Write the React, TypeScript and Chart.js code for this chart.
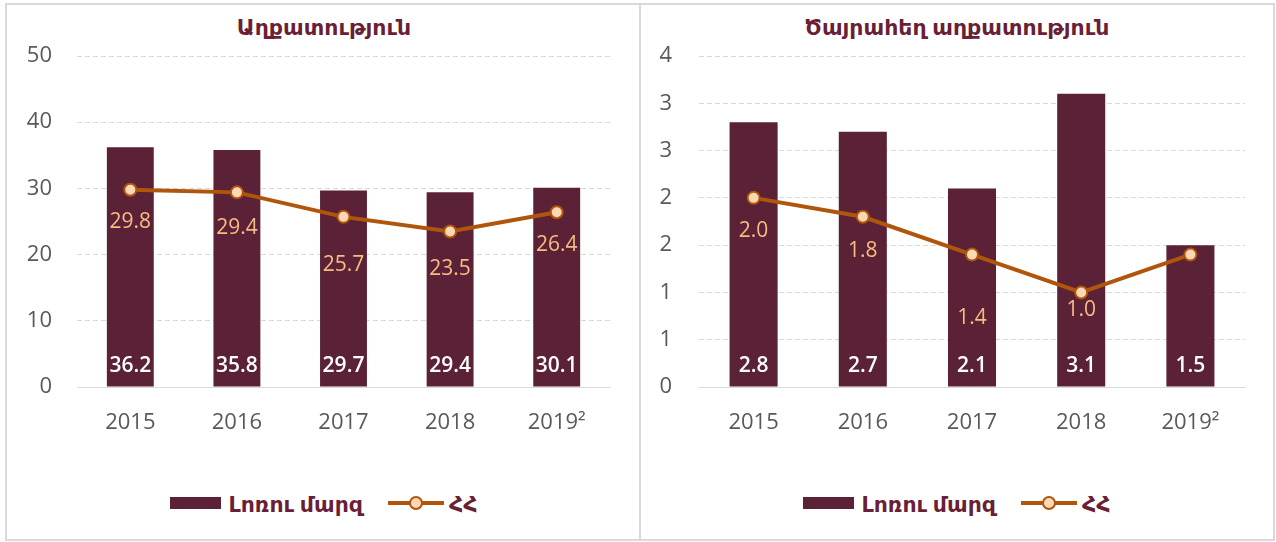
import React, { useEffect, useRef } from "react";
import { Chart, registerables } from "chart.js";

Chart.register(...registerables);

const YEARS = ["2015", "2016", "2017", "2018", "2019²"];
const POVERTY_LORI = [36.2, 35.8, 29.7, 29.4, 30.1];
const POVERTY_RA = [29.8, 29.4, 25.7, 23.5, 26.4];
const EXTREME_LORI = [2.8, 2.7, 2.1, 3.1, 1.5];
const EXTREME_RA = [2.0, 1.8, 1.4, 1.0, 1.4];

const TITLE_LEFT = "Աղքատություն";
const TITLE_RIGHT = "Ծայրահեղ աղքատություն";
const LEGEND_BAR = "Լոռու մարզ";
const LEGEND_LINE = "ՀՀ";

const BAR_COLOR = "#5A2137";
const LINE_COLOR = "#B0560C";
const POINT_FILL = "#FDD8B5";
const LINE_LABEL_COLOR = "#F7BC82";
const TITLE_COLOR = "#6A1F37";
const TICK_COLOR = "#595959";
const GRID_COLOR = "#D9D9D9";
const FONT = "'Open Sans', 'DejaVu Sans', sans-serif";

const labelPlugin = {
  id: "valueLabels",
  afterDatasetsDraw(chart: any, _args: any, opts: any) {
    const ctx = chart.ctx;
    ctx.save();
    ctx.textAlign = "center";
    ctx.textBaseline = "middle";
    chart.data.datasets.forEach((ds: any, di: number) => {
      const meta = chart.getDatasetMeta(di);
      meta.data.forEach((el: any, i: number) => {
        const v = ds.data[i];
        const txt = v.toFixed(1);
        if (ds.type === "bar") {
          ctx.fillStyle = "#FFFFFF";
          ctx.font = `600 21px ${FONT}`;
          ctx.fillText(txt, el.x, el.base - 20);
        } else {
          const off = opts.lineOffsets ? opts.lineOffsets[i] : 33;
          if (off === null) return;
          ctx.fillStyle = LINE_LABEL_COLOR;
          ctx.font = `21px ${FONT}`;
          ctx.fillText(txt, el.x, el.y + off);
        }
      });
    });
    ctx.restore();
  },
};

type Cfg = {
  bars: number[];
  line: number[];
  max: number;
  step: number;
  yWidth: number;
  tickPad: number;
  padRight: number;
  lineOffsets: (number | null)[];
  fmt: (v: number) => string;
};

function PanelChart({ cfg }: { cfg: Cfg }) {
  const ref = useRef<HTMLCanvasElement | null>(null);
  useEffect(() => {
    if (!ref.current) return;
    const chart = new Chart(ref.current, {
      data: {
        labels: YEARS,
        datasets: [
          {
            type: "line",
            label: LEGEND_LINE,
            data: cfg.line,
            borderColor: LINE_COLOR,
            borderWidth: 4,
            pointRadius: 6,
            pointBackgroundColor: POINT_FILL,
            pointBorderColor: LINE_COLOR,
            pointBorderWidth: 2,
            tension: 0,
            order: 0,
          } as any,
          {
            type: "bar",
            label: LEGEND_BAR,
            data: cfg.bars,
            backgroundColor: BAR_COLOR,
            barPercentage: 0.44,
            categoryPercentage: 1,
            order: 1,
          } as any,
        ],
      },
      options: {
        animation: false,
        responsive: false,
        maintainAspectRatio: false,
        layout: { padding: { top: 51, right: cfg.padRight, left: 0, bottom: 0 } },
        plugins: {
          legend: { display: false },
          tooltip: { enabled: false },
          title: { display: false },
          valueLabels: { lineOffsets: cfg.lineOffsets },
        } as any,
        scales: {
          x: {
            grid: { display: false },
            border: { display: true, color: GRID_COLOR, width: 1 },
            ticks: {
              color: TICK_COLOR,
              font: { family: FONT, size: 22 },
              padding: 15,
            },
            afterFit: (s: any) => {
              s.height = 78;
            },
          },
          y: {
            min: 0,
            max: cfg.max,
            grid: {
              color: (c: any) => (c.tick && c.tick.value === 0 ? "rgba(0,0,0,0)" : GRID_COLOR),
              lineWidth: 1,
              tickLength: 0,
              drawTicks: false,
            },
            border: { display: false, dash: [5, 3] },
            ticks: {
              stepSize: cfg.step,
              color: TICK_COLOR,
              font: { family: FONT, size: 22 },
              padding: cfg.tickPad,
              callback: (v: any) => cfg.fmt(Number(v)),
            },
            afterFit: (s: any) => {
              s.width = cfg.yWidth;
            },
          },
        },
      },
      plugins: [labelPlugin],
    });
    return () => chart.destroy();
  }, []);
  return <canvas ref={ref} width={634} height={460} style={{ display: "block", width: 634, height: 460 }} />;
}

function Legend() {
  return (
    <div
      style={{
        position: "absolute",
        top: 483,
        left: 0,
        right: 0,
        display: "flex",
        justifyContent: "center",
        alignItems: "center",
        fontFamily: FONT,
        fontSize: 22,
        color: TITLE_COLOR,
        fontWeight: 600,
        lineHeight: "30px",
      }}
    >
      <div style={{ width: 51, height: 12, background: BAR_COLOR, marginRight: 7 }} />
      <span>{LEGEND_BAR}</span>
      <div style={{ position: "relative", width: 56, height: 12, marginLeft: 25, marginRight: 5 }}>
        <div style={{ position: "absolute", left: 0, right: 0, top: 4, height: 4, background: LINE_COLOR }} />
        <div
          style={{
            position: "absolute",
            left: 21,
            top: -1,
            width: 10,
            height: 10,
            borderRadius: "50%",
            background: POINT_FILL,
            border: `2px solid ${LINE_COLOR}`,
          }}
        />
      </div>
      <span>{LEGEND_LINE}</span>
    </div>
  );
}

function Panel({ left, width, title, cfg }: { left: number; width: number; title: string; cfg: Cfg }) {
  return (
    <div
      style={{
        position: "absolute",
        left,
        top: 3,
        width,
        height: 538,
        boxSizing: "border-box",
        border: `2px solid ${GRID_COLOR}`,
        background: "#fff",
      }}
    >
      <div
        style={{
          position: "absolute",
          top: 6,
          left: 0,
          right: 0,
          textAlign: "center",
          fontFamily: FONT,
          fontWeight: 700,
          fontSize: 22,
          color: TITLE_COLOR,
        }}
      >
        {title}
      </div>
      <div style={{ position: "absolute", left: 0, top: 0 }}>
        <PanelChart cfg={cfg} />
      </div>
      <Legend />
    </div>
  );
}

export default function App() {
  const leftCfg: Cfg = {
    bars: POVERTY_LORI,
    line: POVERTY_RA,
    max: 50,
    step: 10,
    yWidth: 70,
    tickPad: 25,
    padRight: 31,
    lineOffsets: [32, 36, 48, 38, 33],
    fmt: (v) => String(v),
  };
  const rightCfg: Cfg = {
    bars: EXTREME_LORI,
    line: EXTREME_RA,
    max: 3.5,
    step: 0.5,
    yWidth: 58,
    tickPad: 27,
    padRight: 30,
    lineOffsets: [33, 34, 63, 18, null],
    fmt: (v) => String(Math.round(v)),
  };
  return (
    <div style={{ position: "absolute", left: 0, top: 0, width: 1276, height: 542, background: "#fff" }}>
      <Panel left={5} width={638} title={TITLE_LEFT} cfg={leftCfg} />
      <Panel left={639} width={636} title={TITLE_RIGHT} cfg={rightCfg} />
    </div>
  );
}
